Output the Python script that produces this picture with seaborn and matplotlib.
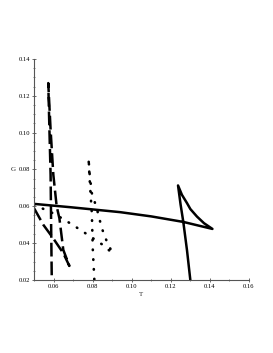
import matplotlib
matplotlib.use("Agg")
import matplotlib.pyplot as plt
import seaborn as sns
import pandas as pd
from matplotlib.ticker import MultipleLocator

# Solid curve (three branches of the swallowtail)
solid_T = [0.050, 0.0685, 0.0941, 0.1100, 0.1264, 0.1413,
           0.1370, 0.1334, 0.1300, 0.1283, 0.1257, 0.1237,
           0.1250, 0.1264, 0.1283, 0.1302]
solid_G = [0.0613, 0.0595, 0.0568, 0.0545, 0.0515, 0.0477,
           0.0508, 0.0544, 0.0585, 0.0617, 0.0662, 0.0713,
           0.0610, 0.0515, 0.0360, 0.0180]

# Dashed curve
dash_T = [0.050, 0.0548, 0.0597, 0.0650, 0.0681,
          0.0650, 0.0630, 0.0616, 0.0599, 0.0585, 0.0573,
          0.0579, 0.0585, 0.0588, 0.0591, 0.0592]
dash_G = [0.0590, 0.0499, 0.0428, 0.0345, 0.0276,
          0.0363, 0.0535, 0.0600, 0.0771, 0.1015, 0.1269,
          0.1015, 0.0771, 0.0472, 0.0200, 0.0180]

# Dotted curve
dot_T = [0.050, 0.0539, 0.0608, 0.0698, 0.0784, 0.0847, 0.0902,
         0.0873, 0.0847, 0.0821, 0.0796, 0.0785, 0.0779,
         0.0787, 0.0796, 0.0801, 0.0808, 0.0810]
dot_G = [0.0610, 0.0590, 0.0557, 0.0499, 0.0439, 0.0394, 0.0345,
         0.0408, 0.0481, 0.0589, 0.0671, 0.0771, 0.0861,
         0.0707, 0.0562, 0.0363, 0.0219, 0.0180]

x_ticks = [0.06, 0.08, 0.10, 0.12, 0.14, 0.16]
y_ticks = [0.02, 0.04, 0.06, 0.08, 0.10, 0.12, 0.14]

sns.set_style("white")
plt.rcParams['font.family'] = ['Liberation Serif', 'DejaVu Serif']

fig = plt.figure(figsize=(2.73, 3.53), dpi=100)
ax = fig.add_axes([0.1245, 0.207, 0.7875, 0.626])

df_s = pd.DataFrame({"T": solid_T, "G": solid_G})
df_d = pd.DataFrame({"T": dash_T, "G": dash_G})
df_o = pd.DataFrame({"T": dot_T, "G": dot_G})

sns.lineplot(data=df_s, x="T", y="G", sort=False, estimator=None, ax=ax,
             color="black", lw=1.8, solid_joinstyle="round")
sns.lineplot(data=df_d, x="T", y="G", sort=False, estimator=None, ax=ax,
             color="black", lw=1.8)
ax.lines[-1].set_dashes((5.5, 2))
sns.lineplot(data=df_o, x="T", y="G", sort=False, estimator=None, ax=ax,
             color="black", lw=1.9)
ax.lines[-1].set_dashes((0.2, 3.5))
ax.lines[-1].set_dash_capstyle("round")

ax.set_xlim(0.05, 0.16)
ax.set_ylim(0.02, 0.14)
ax.set_xticks(x_ticks)
ax.set_yticks(y_ticks)
ax.set_xticklabels([f"{v:.2f}" for v in x_ticks])
ax.set_yticklabels([f"{v:.2f}" for v in y_ticks])
ax.xaxis.set_minor_locator(MultipleLocator(0.01))
ax.yaxis.set_minor_locator(MultipleLocator(0.005))

for s in ["top", "right"]:
    ax.spines[s].set_visible(False)
for s in ["left", "bottom"]:
    ax.spines[s].set_color("#555555")
    ax.spines[s].set_linewidth(0.8)

ax.tick_params(axis="both", which="major", labelsize=4.7, length=3,
               width=0.6, colors="#555555", labelcolor="black",
               direction="inout", pad=1.5)
ax.tick_params(axis="both", which="minor", length=2, width=0.5,
               colors="#555555", direction="inout")
ax.tick_params(left=True, bottom=True, which="both")

ax.set_xlabel("T", fontsize=5, labelpad=2)
ax.set_ylabel("G", fontsize=5, rotation=0, labelpad=4, va="center")

fig.savefig("out.png", dpi=100, facecolor="white")
